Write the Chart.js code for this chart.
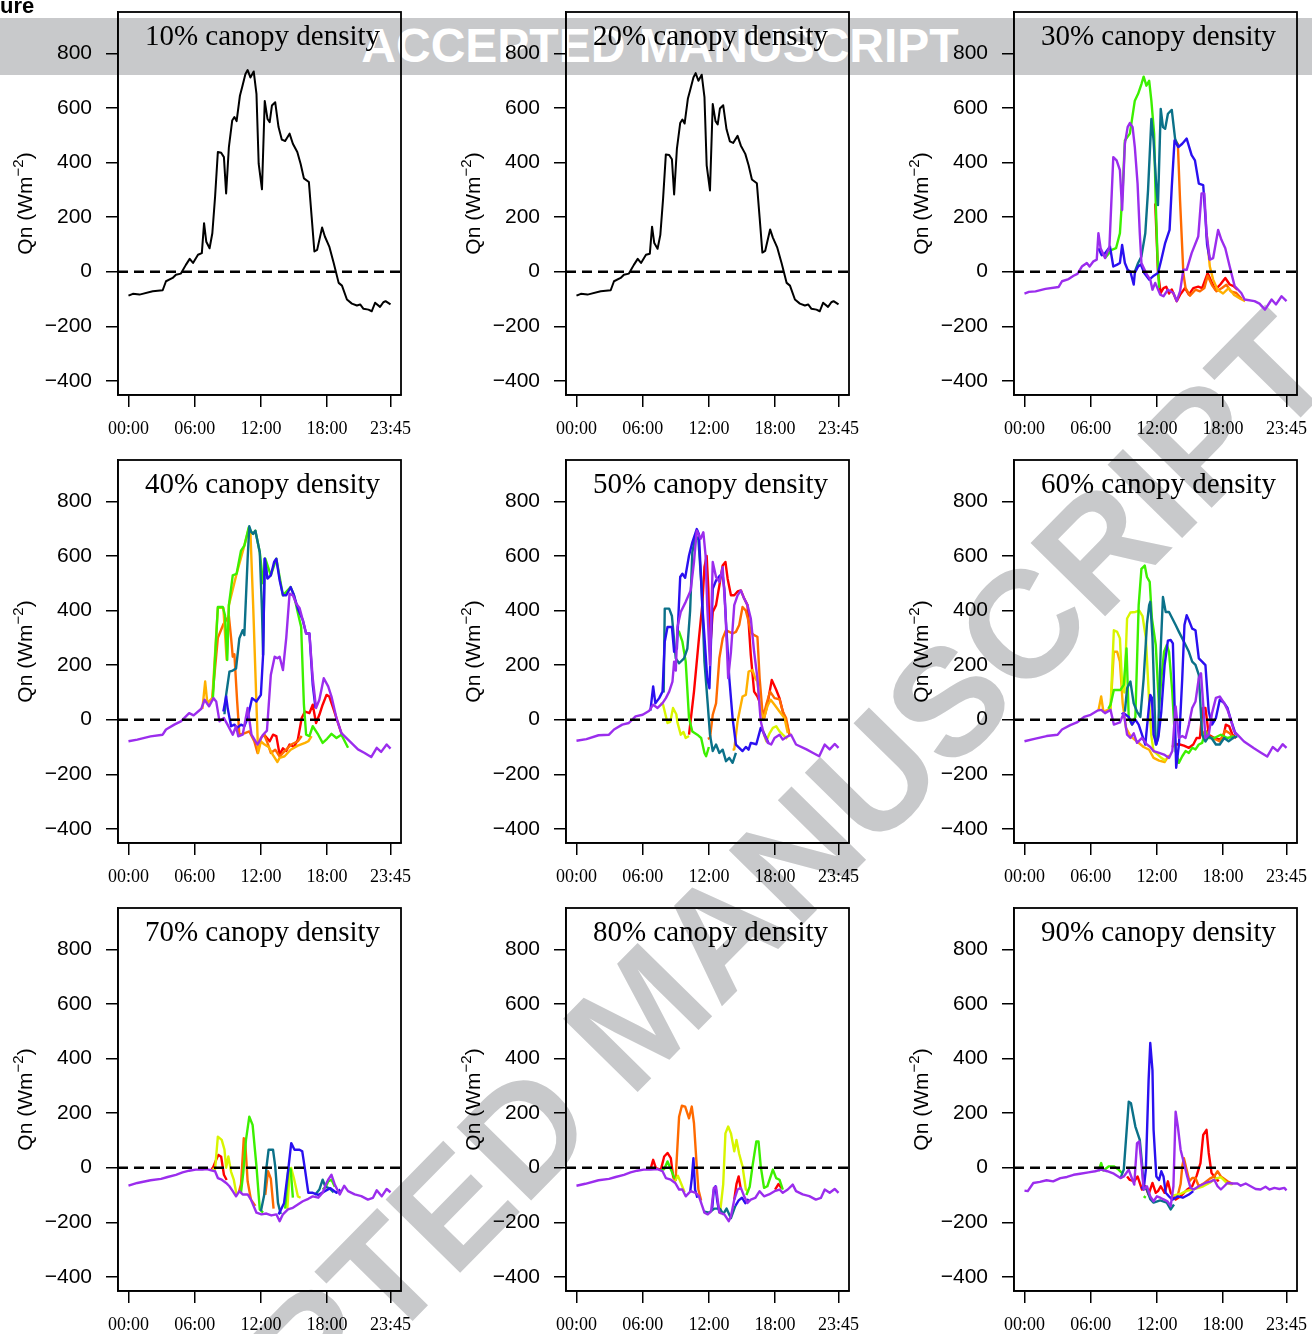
<!DOCTYPE html>
<html>
<head>
<meta charset="utf-8">
<script src="https://cdn.jsdelivr.net/npm/chart.js@4.4.1/dist/chart.umd.min.js"></script>
<style>
  body { margin: 0; background: #fff; width: 1312px; height: 1334px; overflow: hidden; position: relative; }
  .band { position: absolute; left: 0; top: 18px; width: 1312px; height: 57px; background: #c8c9cb; z-index: 0; }
  .band span { position: absolute; left: 0; width: 1320px; text-align: center; top: 0; line-height: 57px;
    font: bold 48px "Liberation Sans", Arial, sans-serif; color: #fff; }
  .diag { position: absolute; left: 640px; top: 1014px; transform: translate(-50%, -50%) rotate(-45.5deg);
    font: bold 152px/1 "Liberation Sans", Arial, sans-serif; color: #c8c9cb; white-space: nowrap; z-index: 0; }
  .fig { position: absolute; left: 0; top: -7px; font: bold 22px "Liberation Sans", Arial, sans-serif; color: #000; z-index: 2; }
  canvas { position: absolute; z-index: 1; }
</style>
</head>
<body>
<div class="band"><span>ACCEPTED MANUSCRIPT</span></div>
<div class="diag">ACCEPTED MANUSCRIPT</div>
<div class="fig">ure</div>

<script>
// axis ticks
const HOUR_TICKS = [0, 6, 12, 18, 23.75];
const HOUR_LABELS = ['00:00', '06:00', '12:00', '18:00', '23:45'];
const Y_TICKS = [-400, -200, 0, 200, 400, 600, 800];

const PANEL_TITLES = ['10% canopy density', '20% canopy density', '30% canopy density',
  '40% canopy density', '50% canopy density', '60% canopy density',
  '70% canopy density', '80% canopy density', '90% canopy density'];

// colours
const BLACK = '#000000', RED = '#ff0000', ORANGE = '#ff6a00', AMBER = '#ffb000', YELLOW = '#d8f500',
  GREEN = '#3cf000', TEAL = '#0b7189', BLUE = '#2a10f0', PURPLE = '#9b2ded';

// [hour, Qn] pairs
const base10 = [[0,-88],[0.4,-81],[1,-84],[2.2,-72],[3.1,-68],[3.4,-35],[4,-23],[4.3,-11],[4.75,-7],[5.2,25],[5.55,47],[5.85,32],[6.3,62],[6.65,68],[6.85,178],[7.05,110],[7.35,86],[7.6,141],[7.85,275],[8.1,439],[8.4,436],[8.65,420],[8.85,287],[9.1,457],[9.4,554],[9.6,567],[9.8,552],[10.1,645],[10.3,676],[10.6,725],[10.8,739],[11.05,712],[11.35,734],[11.6,652],[11.8,396],[12.1,302],[12.35,626],[12.6,560],[12.8,548],[13.0,609],[13.3,621],[13.6,530],[13.9,484],[14.2,479],[14.6,506],[14.9,469],[15.3,439],[15.6,396],[15.9,342],[16.35,329],[16.6,202],[16.85,74],[17.1,80],[17.55,162],[17.8,129],[18.2,92],[18.6,32],[19.05,-41],[19.35,-51],[19.8,-102],[20.25,-117],[20.7,-124],[21.0,-120],[21.3,-136],[21.75,-139],[22.05,-145],[22.35,-114],[22.8,-129],[23.1,-112],[23.3,-108],[23.75,-120]];
const base20 = [[0,-88],[0.4,-81],[1,-84],[2.2,-72],[3.1,-68],[3.4,-35],[4,-23],[4.3,-11],[4.75,-7],[5.2,25],[5.55,47],[5.85,32],[6.3,62],[6.65,66],[6.85,165],[7.05,105],[7.35,84],[7.6,135],[7.85,268],[8.1,430],[8.4,428],[8.65,412],[8.85,283],[9.1,450],[9.4,545],[9.6,558],[9.8,543],[10.1,635],[10.3,665],[10.6,712],[10.8,728],[11.05,700],[11.35,722],[11.6,640],[11.8,390],[12.1,298],[12.35,615],[12.6,552],[12.8,540],[13.0,598],[13.3,610],[13.6,522],[13.9,478],[14.2,472],[14.6,498],[14.9,462],[15.3,432],[15.6,390],[15.9,338],[16.35,324],[16.6,198],[16.85,70],[17.1,76],[17.55,155],[17.8,125],[18.2,88],[18.6,30],[19.05,-41],[19.35,-51],[19.8,-102],[20.25,-117],[20.7,-124],[21.0,-120],[21.3,-136],[21.75,-139],[22.05,-145],[22.35,-114],[22.8,-129],[23.1,-112],[23.3,-108],[23.75,-120]];

const p30Purple = [[0,-80],[0.4,-74],[1,-72],[1.9,-63],[3.1,-56],[3.4,-35],[4,-27],[4.45,-15],[4.8,-8],[5.2,19],[5.65,32],[5.9,19],[6.25,38],[6.55,44],[6.7,141],[6.9,86],[7.3,50],[7.7,92],[8.05,420],[8.35,408],[8.65,372],[8.85,226],[9.1,469],[9.35,530],[9.55,545],[9.8,530],[10.0,457],[10.25,323],[10.45,141],[10.6,32],[11.1,-11],[11.4,-29],[11.6,-66],[11.85,-41],[12.3,-84],[12.6,-90],[13.0,-66],[13.5,-78],[13.8,-108],[14.1,-72],[14.4,7],[14.7,7],[15.15,68],[15.75,129],[16.05,287],[16.3,287],[16.5,141],[16.8,44],[17.1,50],[17.55,153],[17.85,117],[18.2,86],[18.6,19],[19.05,-53],[19.65,-78],[19.95,-102],[20.85,-108],[21.3,-117],[21.8,-139],[22.4,-102],[22.8,-120],[23.3,-90],[23.75,-108]];
const p30Blue = [[6.7,86],[7.0,60],[7.3,68],[7.75,92],[8.05,19],[8.4,26],[8.65,32],[8.85,98],[9.1,32],[9.35,7],[9.6,0],[9.9,-47],[10.0,-5],[10.3,19],[10.55,26],[10.85,-5],[11.3,-29],[11.65,-17],[12.1,-5],[12.4,44],[12.75,105],[13.15,153],[13.35,311],[13.6,481],[13.95,457],[14.3,469],[14.7,488],[15.15,427],[15.45,408],[15.8,323],[16.2,317],[16.4,200],[16.55,100],[16.8,44]];
const p30Teal = [[10.0,0],[10.3,32],[10.6,56],[10.95,141],[11.2,299],[11.5,560],[11.7,481],[11.95,311],[12.1,244],[12.35,597],[12.55,530],[12.75,524],[13.0,579],[13.35,593],[13.65,488],[13.95,457]];
const p30Green = [[7.3,50],[7.9,80],[8.3,86],[8.65,141],[8.9,300],[9.1,481],[9.55,506],[10.0,627],[10.3,652],[10.6,688],[10.8,715],[11.05,682],[11.3,700],[11.5,627],[11.75,506],[11.9,250],[12.05,60],[12.2,-60]];
const p30Amber = [[16.5,141],[16.8,19],[17.1,-29],[17.5,-66],[18.0,-80],[18.5,-60],[19.0,-85],[19.6,-100],[20.0,-108]];
const p30Orange = [[13.6,481],[13.9,469],[14.1,262],[14.4,-5],[14.6,-60],[15.0,-88],[15.5,-66],[15.9,-72],[16.3,-60],[16.6,-15],[17.0,-50],[17.4,-72],[17.9,-60],[18.3,-48],[18.7,-72],[19.2,-78],[19.7,-100]];
const p30Red = [[11.85,250],[12.0,100],[12.1,-5],[12.35,-78],[12.6,-60],[12.85,-55],[13.1,-80],[13.35,-65],[13.8,-108],[14.1,-85],[14.55,-60],[14.9,-84],[15.3,-60],[15.75,-55],[16.1,-60],[16.6,-5],[17.0,-41],[17.3,-66],[17.75,-47],[18.2,-23],[18.6,-47],[18.95,-53],[19.3,-66]];

const p40Purple = [[0,-79],[0.8,-73],[2.0,-61],[3.1,-55],[3.4,-36],[4.15,-18],[4.75,-6],[5.5,24],[5.9,16],[6.6,40],[6.9,73],[7.3,49],[7.7,79],[7.95,67],[8.25,-6],[8.65,6],[9.0,-20],[9.45,-55],[9.75,-24],[9.95,-61],[10.35,-55],[10.8,43],[11.15,-55],[11.7,-91],[12.2,-55],[12.55,-40],[12.9,164],[13.25,231],[13.5,225],[13.7,231],[14.0,182],[14.3,300],[14.6,462],[14.9,456],[15.2,426],[15.5,410],[15.8,365],[16.1,316],[16.4,316],[16.7,152],[17.0,43],[17.3,73],[17.7,152],[18.1,122],[18.4,85],[18.85,6],[19.3,-49],[19.9,-73],[20.8,-109],[21.4,-122],[22.0,-137],[22.5,-103],[22.9,-118],[23.4,-91],[23.75,-106]];
const p40Blue = [[8.6,30],[8.85,85],[9.0,40],[9.3,-24],[9.6,-18],[9.85,-30],[10.2,-18],[10.5,-24],[10.8,6],[11.2,79],[11.6,67],[12.0,91],[12.2,237],[12.35,590],[12.6,517],[12.9,529],[13.2,578],[13.4,590],[13.7,511],[14.0,456],[14.3,456],[14.7,486],[15.0,456],[15.35,407],[15.8,365],[16.1,316],[16.4,316],[16.7,128],[16.95,43]];
const p40Teal = [[8.7,20],[8.85,91],[9.15,176],[9.45,180],[9.75,188],[10.05,298],[10.35,328],[10.5,310],[10.8,590],[10.95,709],[11.1,690],[11.3,681],[11.5,693],[11.9,614],[12.1,400],[12.2,237],[12.35,590],[12.6,517]];
const p40Green = [[7.65,79],[8.1,413],[8.55,413],[8.75,383],[8.95,219],[9.1,420],[9.45,529],[9.8,535],[10.2,620],[10.5,638],[10.9,705],[11.1,690],[11.3,681],[11.5,693],[11.9,614],[12.2,500],[12.4,590],[12.9,529],[13.4,590],[14.0,456],[14.7,486],[15.0,456],[15.4,383],[15.65,340],[15.9,55],[16.1,-55],[16.4,-60],[16.7,-24],[17.2,-55],[17.6,-85],[18.0,-70],[18.4,-52],[18.85,-67],[19.3,-55],[19.9,-103]];
const p40Amber = [[6.7,40],[6.95,140],[7.15,60],[7.6,80],[8.1,410],[8.6,410],[8.9,220],[9.1,420],[9.8,535],[10.5,638],[10.9,700],[11.05,690],[11.3,420],[11.6,55],[11.75,-122],[12.0,-80],[12.3,-90],[12.7,-100],[13.1,-130],[13.5,-155],[13.7,-140],[14.15,-134],[14.7,-110],[15.35,-95],[16.0,-85],[16.3,-79],[16.6,-60]];
const p40Orange = [[7.6,80],[8.1,300],[8.6,350],[9.1,380],[9.3,300],[9.45,231],[9.6,240],[9.85,67],[10.05,-55],[10.5,-50],[10.95,-43],[11.4,-79],[11.7,-122],[12.0,-67],[12.3,-55],[12.6,-85],[12.9,-122],[13.3,-110],[13.7,-135],[14.15,-115],[14.75,-91],[15.35,-79],[15.7,-60]];
const p40Red = [[12.3,-55],[12.8,-79],[13.1,-55],[13.4,-60],[13.7,-128],[14.0,-105],[14.3,-115],[14.6,-91],[15.0,-100],[15.35,-73],[15.7,6],[16.0,30],[16.4,24],[16.7,55],[17.0,-12],[17.3,18],[17.6,55],[17.95,91],[18.2,85],[18.55,43],[18.85,6],[19.3,-50]];

const p50Purple = [[0,-77],[0.9,-71],[2.0,-57],[2.95,-55],[3.4,-36],[4.15,-18],[4.75,-12],[5.35,12],[6.0,18],[6.6,33],[6.95,55],[7.35,43],[7.8,61],[8.1,79],[8.4,103],[8.7,140],[8.85,213],[9.0,180],[9.15,340],[9.45,395],[9.9,432],[10.35,474],[10.65,578],[10.9,693],[11.05,681],[11.25,663],[11.5,687],[11.7,602],[11.85,420],[12.1,200],[12.35,578],[12.65,523],[12.95,505],[13.25,559],[13.5,395],[13.75,152],[14.0,249],[14.3,420],[14.6,456],[14.9,474],[15.2,444],[15.5,420],[15.8,371],[16.1,249],[16.4,152],[16.7,-6],[17.0,-55],[17.35,-85],[17.65,-91],[17.95,-67],[18.4,-55],[18.7,-73],[19.15,-61],[19.45,-55],[19.9,-91],[20.85,-109],[21.45,-122],[22.0,-134],[22.5,-91],[22.95,-109],[23.4,-89],[23.75,-103]];
const p50Blue = [[6.7,33],[6.95,122],[7.15,60],[7.5,79],[7.8,103],[8.0,286],[8.25,340],[8.65,340],[8.85,249],[9.1,260],[9.4,523],[9.6,535],[9.85,520],[10.2,602],[10.5,650],[10.9,699],[11.1,680],[11.4,420],[11.65,274],[11.85,152],[12.05,115],[12.35,480],[12.65,510],[13.0,529],[13.25,529],[13.4,480],[13.55,359],[13.85,152],[14.15,6],[14.45,-91],[14.75,-103],[15.05,-115],[15.35,-100],[15.6,-110],[15.8,-85],[16.3,-90],[16.7,-30],[17.0,-50],[17.4,-85]];
const p50Teal = [[7.9,100],[8.0,407],[8.4,407],[8.65,380],[9.0,225],[9.3,207],[9.75,225],[10.05,261],[10.3,400],[10.5,614],[10.8,675],[11.05,660],[11.35,480],[11.6,213],[11.9,55],[12.1,-55],[12.35,-115],[12.65,-91],[12.95,-122],[13.25,-110],[13.55,-152],[13.85,-140],[14.15,-158],[14.45,-122]];
const p50Green = [[9.1,330],[9.3,322],[9.6,286],[9.9,213],[10.2,6],[10.5,-43],[10.95,-55],[11.3,-67],[11.6,-122],[11.75,-134],[12.0,-100]];
const p50Yellow = [[7.6,60],[7.85,55],[8.25,-12],[8.5,-8],[8.75,43],[9.05,20],[9.15,-10],[9.45,-55],[9.7,-45],[9.9,-67],[10.2,-60],[13.5,null],[16.9,-40],[17.2,-79],[17.5,-50],[17.8,-30],[18.1,-24],[18.4,-43],[18.7,-55],[19.1,-70]];
const p50Amber = [[14.15,-110],[14.3,-109],[14.6,-6],[15.05,85],[15.35,91],[15.6,176],[15.95,182],[16.2,152],[16.4,140],[16.7,30],[17.0,6],[17.3,49],[17.6,73],[17.95,55],[18.4,30],[18.85,6],[19.15,-49]];
const p50Orange = [[11.9,-70],[12.1,-67],[12.35,18],[12.65,60],[12.95,225],[13.25,298],[13.55,328],[13.85,322],[14.15,316],[14.45,322],[14.75,347],[15.05,413],[15.35,400],[15.6,360],[15.8,320],[16.1,310],[16.4,304],[16.6,152],[16.9,6],[17.2,55],[17.55,103],[17.95,79],[18.4,75],[18.7,30],[19.0,6],[19.3,-55]];
const p50Red = [[10.2,-55],[10.65,103],[11.1,298],[11.4,420],[11.6,560],[11.8,600],[11.95,480],[12.1,250],[12.35,395],[12.65,420],[12.95,492],[13.25,565],[13.5,578],[13.7,517],[14.0,456],[14.3,456],[14.6,470],[14.9,474],[15.2,444],[15.5,420],[15.8,237],[16.1,103],[16.4,85],[16.7,55],[17.0,6],[17.3,55],[17.7,146],[18.1,110],[18.4,79],[18.7,30],[19.0,-6],[19.3,-55]];

const p60Purple = [[0,-79],[0.9,-70],[2.0,-60],[3.0,-55],[3.4,-36],[4.15,-20],[4.75,-10],[5.4,10],[6.0,18],[6.6,33],[6.95,36],[7.3,24],[7.8,36],[8.1,-18],[8.65,-10],[9.0,24],[9.3,-55],[9.6,-67],[9.9,-50],[10.2,-85],[10.65,-67],[11.1,-91],[11.4,-100],[11.7,-115],[12.2,-122],[12.65,-128],[13.1,-140],[13.4,-115],[13.7,49],[14.0,-67],[14.3,-60],[14.6,-67],[14.9,-18],[15.2,43],[15.5,67],[15.8,152],[16.0,170],[16.2,55],[16.4,-67],[16.7,-55],[17.0,24],[17.35,80],[17.7,85],[18.1,61],[18.4,36],[18.7,0],[19.0,-43],[19.3,-55],[19.9,-80],[20.8,-105],[21.4,-120],[22.0,-135],[22.5,-100],[22.95,-115],[23.4,-90],[23.75,-103]];
const p60Blue = [[8.8,20],[9.0,24],[9.45,10],[9.75,-18],[10.05,0],[10.35,-18],[10.65,-55],[10.95,-91],[11.3,55],[11.4,91],[11.55,80],[11.7,-55],[11.95,-91],[12.15,-60],[12.4,30],[12.7,200],[13.0,290],[13.25,292],[13.45,280],[13.6,60],[13.75,-176],[14.0,-90],[14.3,152],[14.5,347],[14.7,383],[14.9,365],[15.2,334],[15.5,328],[15.8,225],[16.1,213],[16.4,200],[16.7,30],[17.0,-18],[17.35,6],[17.7,73],[18.1,61],[18.4,43],[18.7,0],[19.15,-55]];
const p60Teal = [[9.1,30],[9.3,115],[9.6,140],[9.9,60],[10.2,30],[10.5,10],[10.8,150],[11.1,350],[11.3,420],[11.4,432],[11.6,300],[11.9,-91],[12.1,-70],[12.35,261],[12.55,450],[12.8,395],[13.1,395],[13.4,371],[13.7,347],[14.0,322],[14.3,298],[14.6,274],[14.9,249],[15.2,213],[15.5,201],[15.8,164],[16.1,-55],[16.4,-80],[16.7,-60],[17.0,-70],[17.35,-91],[17.7,-91],[18.1,-67],[18.5,-79],[18.9,-67],[19.3,-60]];
const p60Green = [[7.6,40],[7.8,55],[8.1,109],[8.7,109],[9.0,128],[9.25,261],[9.45,6],[9.75,-18],[10.05,10],[10.35,420],[10.6,553],[10.9,565],[11.1,523],[11.35,505],[11.55,371],[11.9,274],[12.2,43],[12.4,150],[12.65,249],[12.9,274],[13.1,249],[13.4,100],[13.7,-115],[14.0,-158],[14.3,-134],[14.6,-115],[14.9,-122],[15.2,-103],[15.5,-109],[15.8,-91],[16.1,-85],[16.4,-43],[16.7,-67],[17.2,-67],[17.8,-55],[18.4,-67],[19.0,-60]];
const p60Yellow = [[7.6,40],[7.8,43],[8.1,328],[8.4,322],[8.65,298],[8.85,128],[9.05,100],[9.3,371],[9.6,393],[10.05,395],[10.4,400],[10.7,380],[11.0,300],[11.3,67],[11.5,-60],[11.7,-115],[12.0,-125],[12.4,-140],[12.8,-150]];
const p60Amber = [[6.7,33],[6.95,85],[7.15,30],[7.8,40],[8.1,249],[8.4,249],[8.65,213],[8.9,60],[9.2,-30],[9.6,-60],[10.2,-80],[10.8,-100],[11.3,-110],[11.7,-140],[12.2,-150],[12.7,-155],[13.1,-130]];
const p60Orange = [[16.1,-55],[16.4,-40],[16.7,-60],[17.2,-70],[17.7,-80],[18.2,-40],[18.6,-50],[19.0,-70]];
const p60Red = [[13.4,-100],[13.55,-91],[14.0,-90],[14.45,-95],[14.9,-103],[15.3,-91],[15.6,-67],[15.9,-67],[16.15,43],[16.4,43],[16.7,-55],[17.2,-67],[17.65,-72],[18.0,-67],[18.25,-18],[18.55,-24],[18.85,-55],[19.2,-67]];

const p70Purple = [[0,-66],[0.8,-56],[2.0,-46],[2.95,-41],[3.55,-34],[4.3,-26],[4.9,-17],[5.5,-11],[6.1,-7],[6.7,-7],[7.1,-5],[7.5,-10],[7.85,-13],[8.1,-38],[8.45,-44],[8.85,-56],[9.15,-68],[9.45,-86],[9.75,-105],[10.05,-86],[10.35,-98],[10.8,-98],[11.1,-117],[11.6,-165],[12.05,-171],[12.5,-168],[12.95,-175],[13.4,-171],[13.7,-196],[14.0,-171],[14.45,-153],[14.9,-147],[15.35,-135],[15.8,-123],[16.3,-114],[16.7,-105],[17.2,-110],[17.6,-92],[17.9,-60],[18.1,-44],[18.4,-26],[18.7,-62],[19.15,-98],[19.55,-66],[19.9,-86],[20.5,-98],[21.1,-104],[21.7,-117],[22.15,-111],[22.5,-83],[22.95,-105],[23.4,-78],[23.75,-90]];
const p70Blue = [[13.6,-171],[14.1,-130],[14.5,0],[14.75,90],[15.05,66],[15.5,66],[15.75,60],[16.0,-7],[16.3,-92],[16.7,-92],[17.2,-100],[17.8,-86],[18.3,-75],[18.85,-92],[19.2,-80]];
const p70Teal = [[12.0,-160],[12.3,-100],[12.5,-1],[12.7,66],[13.1,66],[13.3,5],[13.55,-129],[13.8,-170],[15.0,null],[16.9,-100],[17.3,-80],[17.6,-44],[17.85,-70],[18.2,-75],[18.6,-90]];
const p70Green = [[10.2,-90],[10.4,-20],[10.65,102],[10.95,187],[11.25,157],[11.6,5],[11.9,-153],[12.2,-165],[13.0,null],[14.2,-150],[14.5,-1],[14.7,-5],[14.9,-110],[16.0,null],[17.6,-80],[17.9,-70],[18.1,-50],[18.4,-44],[18.7,-70]];
const p70Yellow = [[7.6,-5],[7.85,-5],[8.1,114],[8.45,102],[8.7,66],[8.85,0],[9.05,41],[9.3,-15],[9.55,-45],[9.8,-100],[12.0,null],[14.4,-150],[14.6,-20],[14.75,-1],[15.0,-40],[15.35,-105],[15.6,-110]];
const p70Orange = [[10.0,-90],[10.2,-60],[10.45,108],[10.6,80],[10.8,-50],[11.1,-117],[11.5,-140],[12.0,null],[12.4,-100],[12.65,-13],[12.9,-40],[13.15,-150]];
const p70Red = [[7.5,-5],[7.65,-1],[7.95,29],[8.15,47],[8.4,40],[8.65,-26],[8.9,-45]];

const p80Purple = [[0,-66],[0.8,-59],[2.0,-46],[2.95,-41],[3.55,-34],[4.3,-26],[4.9,-17],[5.5,-11],[6.1,-7],[6.7,-7],[7.35,-5],[7.8,-13],[8.1,-38],[8.55,-44],[8.95,-56],[9.3,-80],[9.6,-80],[9.9,-105],[10.35,-86],[10.8,-92],[11.1,-105],[11.6,-165],[11.9,-171],[12.2,-160],[12.45,-74],[12.65,-70],[12.95,-165],[13.4,-171],[13.8,-196],[14.0,-178],[14.3,-117],[14.6,-80],[14.9,-74],[15.2,-105],[15.5,-129],[15.8,-117],[16.2,-111],[16.6,-86],[17.0,-105],[17.45,-98],[17.95,-86],[18.4,-80],[18.7,-92],[19.15,-80],[19.6,-62],[19.9,-86],[20.5,-98],[21.1,-104],[21.7,-117],[22.15,-111],[22.5,-80],[22.95,-92],[23.4,-78],[23.75,-92]];
const p80Blue = [[10.3,-90],[10.45,-40],[10.6,35],[10.75,-80],[10.95,-110],[11.5,null],[12.3,-150],[12.45,-80],[12.6,-68],[12.75,-120],[12.95,-165],[13.5,null],[14.4,-140],[14.7,-120],[15.0,-110],[15.3,-130],[15.6,-115]];
const p80Teal = [[11.5,-160],[12.0,-165],[12.5,-150],[13.0,-150],[13.3,-170],[13.6,-150],[14.0,-185],[14.4,-140]];
const p80Green = [[7.6,-10],[7.95,-5],[8.25,23],[8.6,-10],[8.9,-40],[12.0,null],[15.4,-100],[15.7,-70],[15.95,5],[16.3,96],[16.5,96],[16.7,5],[17.0,-74],[17.3,-68],[17.8,-7],[18.1,-38],[18.4,-44],[18.7,-80]];
const p80Yellow = [[8.9,-50],[9.2,-30],[9.5,-60],[9.8,-90],[11.0,null],[13.0,-170],[13.3,-60],[13.5,126],[13.75,151],[14.0,126],[14.3,60],[14.5,102],[14.75,50],[15.05,5],[15.35,-80],[15.6,-90]];
const p80Orange = [[8.7,-40],[9.0,-32],[9.3,187],[9.55,227],[9.85,224],[10.2,181],[10.45,224],[10.65,163],[10.9,5],[11.05,-80],[11.3,-120]];
const p80Red = [[6.7,-7],[6.95,29],[7.2,-2],[7.65,-7],[7.95,41],[8.25,54],[8.55,35],[8.75,-30],[9.0,-50],[11.0,null],[14.3,-117],[14.5,-60],[14.7,-32],[14.9,-80],[16.0,null],[18.0,-80],[18.3,-60],[18.6,-75]];

const p90Purple = [[0,-84],[0.3,-86],[0.8,-56],[1.4,-52],[2.0,-46],[2.6,-50],[3.25,-38],[3.85,-34],[4.45,-26],[5.05,-22],[5.8,-17],[6.4,-13],[6.95,-7],[7.5,-13],[8.1,-22],[8.7,-38],[9.0,-32],[9.45,-7],[9.7,-35],[9.95,-62],[10.2,90],[10.4,96],[10.6,17],[10.8,-80],[11.1,-68],[11.4,-105],[11.7,-123],[12.0,-105],[12.35,-111],[12.65,-117],[12.95,-123],[13.25,-141],[13.5,-68],[13.7,205],[13.9,151],[14.15,66],[14.45,17],[14.75,-32],[15.05,-74],[15.35,-80],[15.8,-68],[16.4,-56],[16.9,-50],[17.2,-44],[17.5,-68],[17.8,-80],[18.1,-68],[18.4,-56],[18.85,-58],[19.3,-58],[19.6,-66],[20.05,-58],[20.5,-68],[20.95,-78],[21.4,-80],[21.85,-70],[22.2,-80],[22.65,-74],[23.1,-78],[23.55,-74],[23.75,-83]];
const p90Blue = [[10.6,-70],[10.8,-80],[11.0,-7],[11.25,321],[11.4,457],[11.6,357],[11.7,139],[11.95,-32],[12.2,-45],[12.4,-13],[12.6,-32],[12.8,-92],[13.1,-105],[13.4,-117],[13.9,-105],[14.35,-110],[14.9,-98],[15.3,-86]];
const p90Teal = [[8.7,-38],[9.0,-7],[9.45,242],[9.65,236],[10.05,151],[10.45,102],[10.65,17],[10.8,-70],[11.1,-80],[11.4,-115],[11.7,-128],[12.3,-120],[12.9,-128],[13.25,-153],[13.55,-135]];
const p90Green = [[6.7,-13],[6.95,17],[7.15,-10],[7.65,5],[8.1,5],[8.55,-8],[8.85,-20],[9.5,null],[10.8,-105],[11.0,-110]];
const p90Yellow = [[13.3,-105],[13.7,-100],[14.2,-95],[14.7,-85],[15.2,-80],[15.7,-75],[16.2,-68],[16.8,-55],[17.3,-40],[17.8,-35],[18.3,-55],[18.8,-62]];
const p90Orange = [[13.9,-100],[14.15,-60],[14.3,5],[14.45,35],[14.7,-8],[14.95,-50],[15.2,-38],[15.5,-38],[15.8,-68],[16.3,-56],[16.8,-40],[17.2,-32],[17.5,-13],[17.8,-32],[18.4,-50],[18.9,-60]];
const p90Red = [[9.3,-32],[9.55,-45],[9.95,-50],[10.25,-32],[10.65,-80],[10.95,-68],[11.25,-98],[11.6,-56],[11.9,-92],[12.1,-86],[12.35,-68],[12.7,-92],[13.0,-50],[13.25,-92],[13.7,-117],[14.15,-105],[14.75,-80],[15.2,-68],[15.6,-30],[15.95,17],[16.2,120],[16.5,139],[16.7,54],[16.95,-19],[17.2,-32],[17.6,-50]];

// per panel, top-most line first
const PANEL_SERIES = [
  [[BLACK, base10]],
  [[BLACK, base20]],
  [[PURPLE, p30Purple], [BLUE, p30Blue], [TEAL, p30Teal], [GREEN, p30Green], [AMBER, p30Amber], [ORANGE, p30Orange], [RED, p30Red]],
  [[PURPLE, p40Purple], [BLUE, p40Blue], [TEAL, p40Teal], [GREEN, p40Green], [AMBER, p40Amber], [ORANGE, p40Orange], [RED, p40Red]],
  [[PURPLE, p50Purple], [BLUE, p50Blue], [TEAL, p50Teal], [GREEN, p50Green], [YELLOW, p50Yellow], [AMBER, p50Amber], [ORANGE, p50Orange], [RED, p50Red]],
  [[PURPLE, p60Purple], [BLUE, p60Blue], [TEAL, p60Teal], [GREEN, p60Green], [YELLOW, p60Yellow], [AMBER, p60Amber], [ORANGE, p60Orange], [RED, p60Red]],
  [[PURPLE, p70Purple], [BLUE, p70Blue], [TEAL, p70Teal], [GREEN, p70Green], [YELLOW, p70Yellow], [ORANGE, p70Orange], [RED, p70Red]],
  [[PURPLE, p80Purple], [BLUE, p80Blue], [TEAL, p80Teal], [GREEN, p80Green], [YELLOW, p80Yellow], [ORANGE, p80Orange], [RED, p80Red]],
  [[PURPLE, p90Purple], [BLUE, p90Blue], [TEAL, p90Teal], [GREEN, p90Green], [YELLOW, p90Yellow], [ORANGE, p90Orange], [RED, p90Red]]
];

const SANS = '"Liberation Sans", Arial, Helvetica, sans-serif';
const SERIF = '"Liberation Serif", "Times New Roman", serif';
const X_MIN = -0.95, X_MAX = 24.7, Y_MIN = -452, Y_MAX = 952;

// box, panel title and y-axis label (with superscript)
const panelDecor = {
    id: 'panelDecor',
    afterDraw(chart, args, opts) {
        const { ctx, chartArea } = chart;
        ctx.save();
        ctx.strokeStyle = '#000';
        ctx.lineWidth = 1.8;
        ctx.strokeRect(chartArea.left, chartArea.top, chartArea.right - chartArea.left, chartArea.bottom - chartArea.top);

        ctx.fillStyle = '#000';
        ctx.font = '29px ' + SERIF;
        ctx.textAlign = 'center';
        ctx.textBaseline = 'alphabetic';
        ctx.fillText(opts.title, (chartArea.left + chartArea.right) / 2 + 3, chartArea.top + 33);

        // "Qn (Wm-2)" rotated
        const cy = (chartArea.top + chartArea.bottom) / 2;
        ctx.translate(32, cy);
        ctx.rotate(-Math.PI / 2);
        ctx.textAlign = 'left';
        const main = 'Qn (Wm', sup = '\u22122', close = ')';
        ctx.font = '21px ' + SANS;
        const w1 = ctx.measureText(main).width, w3 = ctx.measureText(close).width;
        ctx.font = '15px ' + SANS;
        const w2 = ctx.measureText(sup).width;
        let x = -(w1 + w2 + w3) / 2;
        ctx.font = '21px ' + SANS;
        ctx.fillText(main, x, 0);
        x += w1;
        ctx.font = '15px ' + SANS;
        ctx.fillText(sup, x, -9);
        x += w2;
        ctx.font = '21px ' + SANS;
        ctx.fillText(close, x, 0);
        ctx.restore();
    }
};

function toPoints(arr) {
    return arr.map(p => ({ x: p[0], y: p[1] }));
}

function noAutoPadding(scale) {
    scale.paddingTop = 0;
    scale.paddingBottom = 0;
    scale.paddingLeft = 0;
    scale.paddingRight = 0;
}

function buildPanel(idx) {
    const col = idx % 3, row = Math.floor(idx / 3);
    const canvas = document.createElement('canvas');
    canvas.width = 448;
    canvas.height = 440;
    canvas.style.left = (col * 448) + 'px';
    canvas.style.top = (row * 448) + 'px';
    document.body.appendChild(canvas);

    const datasets = [{
        data: [{ x: X_MIN, y: 0 }, { x: X_MAX, y: 0 }],
        borderColor: '#000',
        borderWidth: 2.4,
        borderDash: [10, 6]
    }];
    PANEL_SERIES[idx].forEach(([color, values]) => {
        datasets.push({
            data: toPoints(values),
            borderColor: color,
            borderWidth: color === BLACK ? 2 : 2.4
        });
    });

    new Chart(canvas.getContext('2d'), {
        type: 'line',
        data: { datasets },
        options: {
            responsive: false,
            animation: false,
            layout: { padding: { top: 12, right: 47, left: 0, bottom: 0 } },
            plugins: {
                legend: { display: false },
                tooltip: { enabled: false },
                panelDecor: { title: PANEL_TITLES[idx] }
            },
            elements: {
                point: { radius: 0 },
                line: { tension: 0, borderJoinStyle: 'round', borderCapStyle: 'butt' }
            },
            scales: {
                x: {
                    type: 'linear',
                    min: X_MIN,
                    max: X_MAX,
                    afterBuildTicks: (scale) => { scale.ticks = HOUR_TICKS.map(v => ({ value: v })); },
                    afterFit: (scale) => { scale.height = 45; noAutoPadding(scale); },
                    ticks: {
                        callback: (value) => HOUR_LABELS[HOUR_TICKS.indexOf(value)],
                        font: { family: SERIF, size: 18 },
                        color: '#000',
                        padding: 11,
                        maxRotation: 0,
                        autoSkip: false
                    },
                    grid: { drawOnChartArea: false, tickLength: 12, color: '#000', lineWidth: 1.5 },
                    border: { color: '#000', width: 1.5 }
                },
                y: {
                    min: Y_MIN,
                    max: Y_MAX,
                    afterBuildTicks: (scale) => { scale.ticks = Y_TICKS.map(v => ({ value: v })); },
                    afterFit: (scale) => { scale.width = 118; noAutoPadding(scale); },
                    ticks: {
                        callback: (value) => String(value).replace('-', '\u2212'),
                        font: { family: SANS, size: 21 },
                        color: '#000',
                        padding: 14,
                        autoSkip: false
                    },
                    grid: { drawOnChartArea: false, tickLength: 12, color: '#000', lineWidth: 1.5 },
                    border: { color: '#000', width: 1.5 }
                }
            }
        },
        plugins: [panelDecor]
    });
}

for (let i = 0; i < 9; i++) buildPanel(i);
</script>
</body>
</html>
